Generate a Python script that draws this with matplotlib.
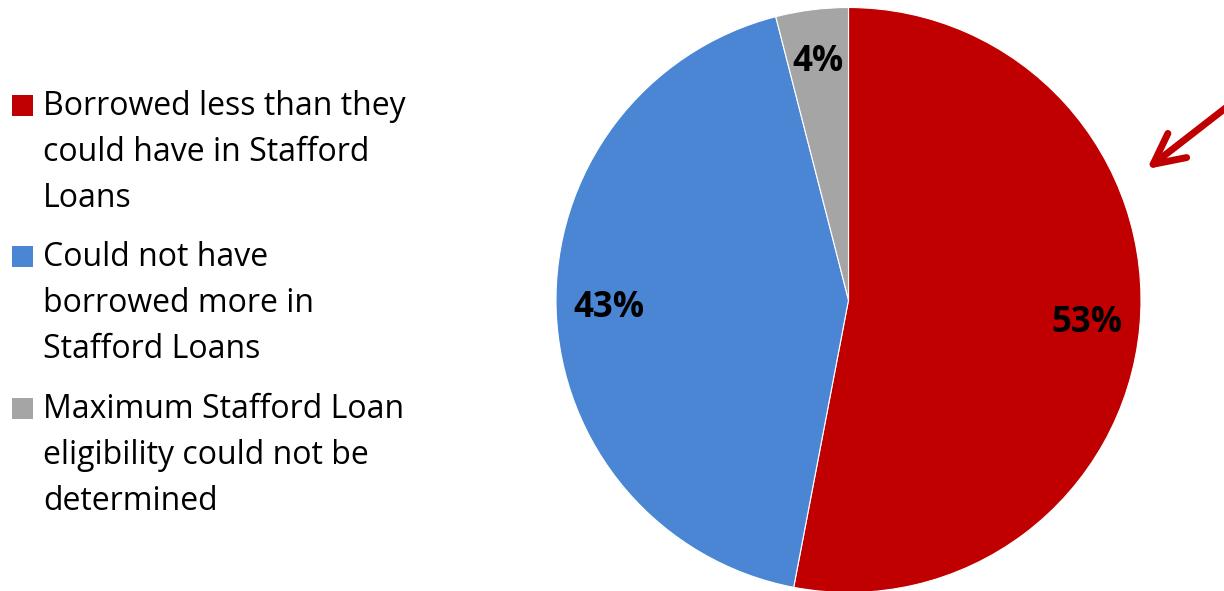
import matplotlib
matplotlib.use("Agg")
import matplotlib.pyplot as plt
from matplotlib.patches import Rectangle, FancyArrowPatch

categories = [
    "Borrowed less than they\ncould have in Stafford\nLoans",
    "Could not have\nborrowed more in\nStafford Loans",
    "Maximum Stafford Loan\neligibility could not be\ndetermined",
]
values = [53, 43, 4]
colors = ["#C00000", "#4A86D4", "#A5A5A5"]

W, H = 1224, 591
fig = plt.figure(figsize=(W / 100, H / 100), dpi=100)

def fx(x):
    return x / W

def fy(y):
    return 1 - y / H

# Pie
cx, cy, r = 848.5, 300.0, 292.5
ax = fig.add_axes([fx(cx - r), fy(cy + r), 2 * r / W, 2 * r / H])
wedges, texts, autotexts = ax.pie(
    values, colors=colors, startangle=90, counterclock=False,
    autopct=lambda p: f"{round(p):d}%", pctdistance=0.82, radius=1.0,
    wedgeprops=dict(edgecolor="white", linewidth=0.8),
    textprops=dict(fontsize=25, fontweight="bold", color="black", family="Open Sans"),
)
for w in wedges:
    w.set_clip_on(False)
ax.set_xlim(-1, 1)
ax.set_ylim(-1, 1)
ax.set_aspect("equal")
ax.axis("off")

# Legend (manual)
sq_x, sq_size = 12, 21
text_x = 43
first_baselines = [115, 266, 418]
line_gap = 46
for col, label, b0 in zip(colors, categories, first_baselines):
    fig.patches.append(Rectangle((fx(sq_x), fy(b0 + 1)), sq_size / W, sq_size / H,
                                 transform=fig.transFigure, facecolor=col,
                                 edgecolor="none"))
    for i, line in enumerate(label.split("\n")):
        fig.text(fx(text_x), fy(b0 + i * line_gap), line, fontsize=23,
                 family="Open Sans", va="baseline", ha="left", color="black")

# Arrow
arrow = FancyArrowPatch((fx(1232), fy(103)), (fx(1147), fy(169)),
                        transform=fig.transFigure,
                        arrowstyle="->,head_length=2.2,head_width=1.1",
                        mutation_scale=10, color="#C00000", lw=5,
                        capstyle="round", joinstyle="round", shrinkA=0, shrinkB=0)
fig.patches.append(arrow)

fig.savefig("out.png", dpi=100)
